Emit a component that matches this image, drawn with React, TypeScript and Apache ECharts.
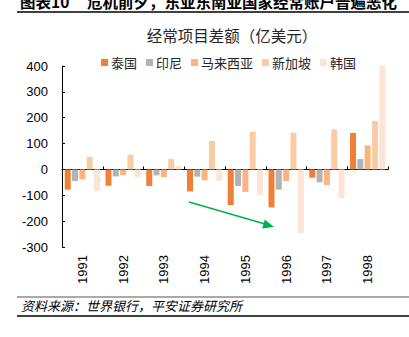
import React, { useEffect, useRef } from "react";
import * as echarts from "echarts";

const years = ["1991", "1992", "1993", "1994", "1995", "1996", "1997", "1998"];
const thailand = [-78, -63, -64, -85, -138, -147, -32, 141];
const indonesia = [-45, -27, -23, -28, -64, -78, -50, 40];
const malaysia = [-38, -22, -30, -42, -87, -45, -60, 93];
const singapore = [49, 57, 41, 110, 146, 142, 155, 187];
const korea = [-83, -31, 13, -45, -100, -246, -110, 401];
const seriesNames = ["泰国", "印尼", "马来西亚", "新加坡", "韩国"];
const seriesColors = ["#F07F38", "#B3B3B3", "#F9B482", "#FBCBA6", "#FDE4D5"];
const yTicks = { min: -300, max: 400, interval: 100 };

const FONT = "'Liberation Sans', 'Noto Sans CJK SC', sans-serif";
const CJK = "'Noto Sans CJK SC', 'Liberation Sans', sans-serif";

export default function App() {
  const ref = useRef<HTMLDivElement>(null);
  useEffect(() => {
    if (!ref.current) return;
    const chart = echarts.init(ref.current, undefined, { renderer: "svg" });
    const values = [thailand, indonesia, malaysia, singapore, korea];
    chart.setOption({
      animation: false,
      backgroundColor: "#fff",
      title: {
        text: "经常项目差额（亿美元）",
        left: 227,
        textAlign: "center",
        top: 22,
        textStyle: { fontSize: 15.5, fontWeight: "normal", color: "#262626", fontFamily: CJK },
      },
      legend: {
        left: 96,
        top: 51,
        icon: "rect",
        itemWidth: 7,
        itemHeight: 7,
        itemGap: 9,
        textStyle: { fontSize: 13, color: "#262626", fontFamily: CJK, padding: [0, 0, 0, -2] },
        data: seriesNames,
      },
      grid: { left: 62, right: 21, top: 66, bottom: 90, containLabel: false },
      xAxis: [
        {
          type: "category",
          data: years,
          position: "bottom",
          axisLine: { show: false, onZero: false },
          axisTick: { show: false },
          axisLabel: {
            rotate: 90,
            fontSize: 13,
            color: "#000",
            fontFamily: FONT,
            margin: 8,
          },
        },
        {
          type: "category",
          data: years,
          position: "bottom",
          axisLine: { show: true, onZero: true, lineStyle: { color: "#000", width: 1 } },
          axisTick: { show: true, inside: true, length: 3, lineStyle: { color: "#000" } },
          axisLabel: { show: false },
        },
      ],
      yAxis: {
        type: "value",
        min: yTicks.min,
        max: yTicks.max,
        interval: yTicks.interval,
        axisLine: { show: true, lineStyle: { color: "#000", width: 1 } },
        axisTick: { show: true, inside: true, length: 3, lineStyle: { color: "#000" } },
        splitLine: { show: false },
        axisLabel: { fontSize: 13, color: "#000", fontFamily: FONT, margin: 14 },
      },
      series: seriesNames.map((name, i) => ({
        name,
        type: "bar",
        xAxisIndex: 0,
        data: values[i],
        barWidth: 6,
        barGap: "22%",
        itemStyle: { color: seriesColors[i] },
      })),
      graphic: [
        {
          type: "text",
          left: 20,
          top: -7,
          style: {
            text: "图表10     危机前夕，东亚东南亚国家经常账户普遍恶化",
            fontSize: 15.5,
            fontWeight: "bold",
            fill: "#000",
            fontFamily: CJK,
          },
        },
        { type: "line", shape: { x1: 17, y1: 12, x2: 409, y2: 12 }, style: { stroke: "#000", lineWidth: 1.5 } },
        { type: "line", shape: { x1: 17, y1: 297, x2: 409, y2: 297 }, style: { stroke: "#555", lineWidth: 1 } },
        { type: "line", shape: { x1: 17, y1: 316, x2: 409, y2: 316 }, style: { stroke: "#000", lineWidth: 1.5 } },
        {
          type: "text",
          left: 21,
          top: 299,
          style: {
            text: "资料来源：世界银行，平安证券研究所",
            fontSize: 13,
            fontStyle: "italic",
            fill: "#000",
            fontFamily: CJK,
          },
        },
        { type: "line", shape: { x1: 189, y1: 202, x2: 265, y2: 224 }, style: { stroke: "#00B050", lineWidth: 1.5 } },
        {
          type: "polygon",
          shape: { points: [[274, 227], [262.2, 228.4], [264.8, 219.4]] },
          style: { fill: "#00B050" },
        },
      ],
    });
    return () => chart.dispose();
  }, []);
  return (
    <div
      ref={ref}
      style={{ position: "fixed", left: 0, top: 0, width: 409, height: 337, background: "#fff" }}
    />
  );
}
